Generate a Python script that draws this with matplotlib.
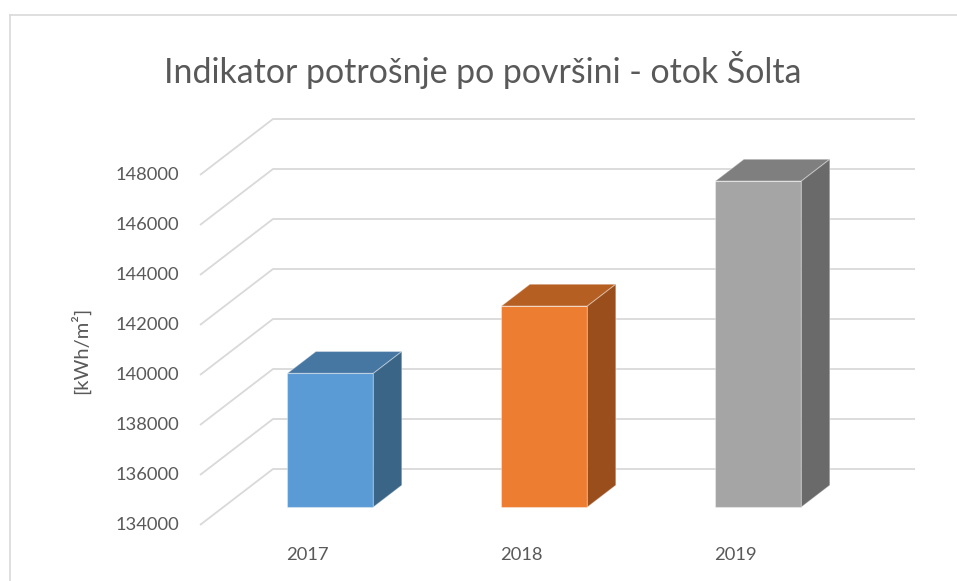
import matplotlib
matplotlib.use("Agg")
import matplotlib.pyplot as plt
from matplotlib.patches import Polygon
from matplotlib.lines import Line2D

# ---- data ----
categories = ["2017", "2018", "2019"]
values = [139350, 142040, 147040]
y_ticks = [134000, 136000, 138000, 140000, 142000, 144000, 146000, 148000]
title = "Indikator potrošnje po površini - otok Šolta"
y_label = "[kWh/m²]"

front_colors = ["#5B9BD5", "#ED7D31", "#A5A5A5"]
top_colors = ["#4676A2", "#B55F22", "#7F7F7F"]
side_colors = ["#3B6587", "#9A4E1C", "#6A6A6A"]

# ---- layout (pixels) ----
W, H = 957, 581
fig = plt.figure(figsize=(W / 100, H / 100), dpi=100)
ax = fig.add_axes([0, 0, 1, 1])
ax.set_axis_off()

cat_px = 214.0          # category width on front plane
x0_px = 307.0           # centre of first category on front plane
base_px = 525.0         # y pixel of axis minimum on front plane
px_per_val = 50.0 / 2000.0
depth_px = (73.0, 56.0)  # full depth offset (right, up)
vmin = y_ticks[0]

ax.set_xlim((0 - x0_px) / cat_px, (W - x0_px) / cat_px)
ax.set_ylim(vmin - (H - base_px) / px_per_val, vmin + base_px / px_per_val)

dx = depth_px[0] / cat_px
dy = depth_px[1] / px_per_val
n = len(categories)
xl, xr = -0.5, n - 0.5

grid_c = "#D9D9D9"
text_c = "#595959"

for t in y_ticks:
    ax.plot([xl, xl + dx, xr + dx], [t, t + dy, t + dy], color=grid_c, lw=1.3,
            zorder=1, solid_capstyle="butt")
    ax.annotate(f"{t}", xy=(xl, t), xytext=(-21, 0), textcoords="offset pixels",
                ha="right", va="center", fontsize=13.2, color=text_c, family="Lato")

# bars
bw = 86.0 / cat_px
d0, d1 = 0.32, 0.71
for i, (v, fc, tc, sc) in enumerate(zip(values, front_colors, top_colors, side_colors)):
    L = i - bw / 2 + d0 * dx
    R = i + bw / 2 + d0 * dx
    b = vmin + d0 * dy
    top = v + d0 * dy
    ddx = (d1 - d0) * dx
    ddy = (d1 - d0) * dy
    ec = (1, 1, 1, 0.35)
    ax.add_patch(Polygon([(L, b), (R, b), (R, top), (L, top)], closed=True,
                         facecolor=fc, edgecolor=ec, lw=0.8, zorder=3))
    ax.add_patch(Polygon([(L, top), (R, top), (R + ddx, top + ddy), (L + ddx, top + ddy)],
                         closed=True, facecolor=tc, edgecolor=ec, lw=0.8, zorder=3))
    ax.add_patch(Polygon([(R, b), (R + ddx, b + ddy), (R + ddx, top + ddy), (R, top)],
                         closed=True, facecolor=sc, edgecolor=ec, lw=0.8, zorder=3))
    ax.annotate(categories[i], xy=(i, vmin), xytext=(0, -30), textcoords="offset pixels",
                ha="center", va="center", fontsize=13.2, color=text_c, family="Lato")

# title and y label
fig.text(483 / W, 1 - 70 / H, title, ha="center", va="center", fontsize=24.4,
         color=text_c, family="Lato")
fig.text(80 / W, 1 - 350 / H, y_label, ha="center", va="center", rotation=90,
         fontsize=14.5, color=text_c, family="Lato")

# chart border
fig.add_artist(Line2D([9.5 / W, 9.5 / W], [0, 1 - 14.5 / H], transform=fig.transFigure,
                      color=grid_c, lw=1.2))
fig.add_artist(Line2D([9.5 / W, 1], [1 - 14.5 / H, 1 - 14.5 / H], transform=fig.transFigure,
                      color=grid_c, lw=1.2))

fig.savefig("out.png", dpi=100, facecolor="white")
